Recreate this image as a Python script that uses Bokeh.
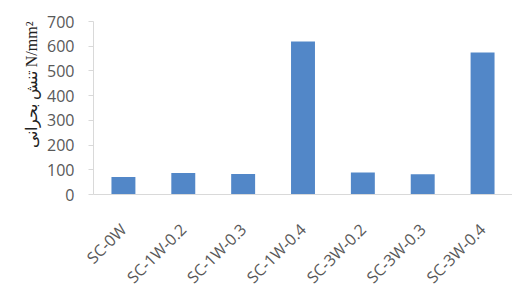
from bokeh.plotting import figure
from bokeh.models import FixedTicker, Title, Range1d
from bokeh.embed import file_html
from bokeh.resources import INLINE
import math

categories = ["SC-0W", "SC-1W-0.2", "SC-1W-0.3", "SC-1W-0.4", "SC-3W-0.2", "SC-3W-0.3", "SC-3W-0.4"]
values = [71, 87, 83, 619, 89, 82, 575]
y_ticks = [0, 100, 200, 300, 400, 500, 600, 700]
y_label = "تنش بحرانی N/mm²"

p = figure(x_range=categories, y_range=Range1d(0, 700),
           frame_width=419, frame_height=173,
           min_border_left=93, min_border_top=21, min_border_right=0, min_border_bottom=88,
           output_backend="svg", toolbar_location=None)
p.outline_line_color = None
p.background_fill_color = "white"
p.border_fill_color = "white"

p.vbar(x=categories, top=values, width=0.4, color="#5287c8", line_color=None)

p.xgrid.grid_line_color = None
p.ygrid.grid_line_color = None

p.yaxis.ticker = FixedTicker(ticks=y_ticks)
p.yaxis.minor_tick_line_color = None
p.yaxis.major_tick_out = 5
p.yaxis.major_tick_in = 0
p.yaxis.major_tick_line_color = "#d9d9d9"
p.yaxis.axis_line_color = "#d9d9d9"
p.yaxis.major_label_text_font = "Open Sans"
p.yaxis.major_label_text_font_size = "16px"
p.yaxis.major_label_text_color = "#595959"
p.yaxis.major_label_standoff = 14

p.xaxis.axis_line_color = "#d9d9d9"
p.xaxis.major_tick_line_color = None
p.xaxis.minor_tick_line_color = None
p.xaxis.major_label_orientation = math.pi / 4
p.xaxis.major_label_text_font = "Open Sans"
p.xaxis.major_label_text_font_size = "16px"
p.xaxis.major_label_text_color = "#595959"
p.xaxis.major_label_standoff = 26

p.add_layout(Title(text=y_label, align="right", text_font="Liberation Serif",
                   text_font_size="16px", text_font_style="normal", text_color="#222222",
                   offset=0), "left")

open("out.html", "w").write(file_html(p, INLINE))
